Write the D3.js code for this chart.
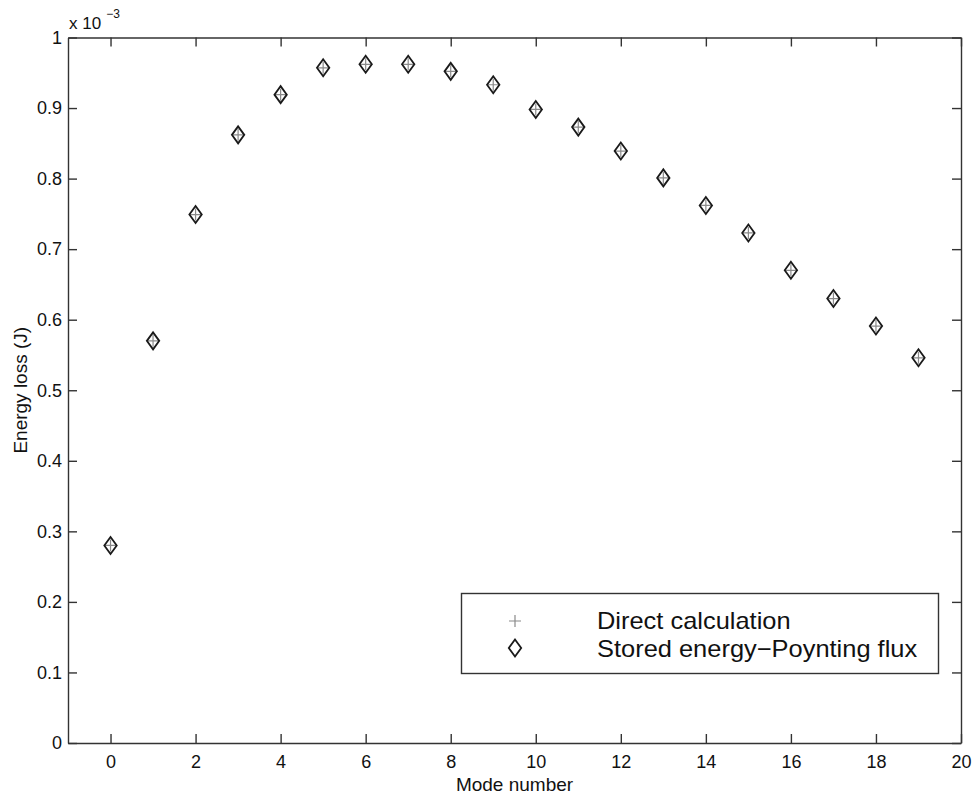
<!DOCTYPE html>
<html>
<head>
<meta charset="utf-8">
<script src="https://cdn.jsdelivr.net/npm/d3@7"></script>
<style>
  body { margin: 0; background: #fff; }
  text { font-family: Helvetica, "Liberation Sans", Arial, sans-serif; fill: #111; }
</style>
</head>
<body>
<svg id="chart" width="972" height="795"></svg>
<script>
(function(){

	//Data (energy loss in units of 1e-3 J)
	var modes = [0, 1, 2, 3, 4, 5, 6, 7, 8, 9, 10, 11, 12, 13, 14, 15, 16, 17, 18, 19];
	var directCalc = [0.280, 0.570, 0.749, 0.862, 0.919, 0.957, 0.962, 0.962, 0.952, 0.933,
		0.898, 0.873, 0.839, 0.801, 0.762, 0.723, 0.670, 0.630, 0.591, 0.546];
	var storedEnergy = [0.280, 0.570, 0.749, 0.862, 0.919, 0.957, 0.962, 0.962, 0.952, 0.933,
		0.898, 0.873, 0.839, 0.801, 0.762, 0.723, 0.670, 0.630, 0.591, 0.546];
	var xTicks = [0, 2, 4, 6, 8, 10, 12, 14, 16, 18, 20];
	var yTicks = [0, 0.1, 0.2, 0.3, 0.4, 0.5, 0.6, 0.7, 0.8, 0.9, 1];
	var legendNames = ["Direct calculation", "Stored energy\u2212Poynting flux"];

	//Layout
	var left = 68, right = 961, top = 37.5, bottom = 743;
	var axisColor = "#333";
	var tickLen = 9;

	var svg = d3.select("#chart");

	var x = d3.scaleLinear().domain([-1, 20]).range([left, right]);
	var y = d3.scaleLinear().domain([0, 1]).range([bottom, top]);

	//Axes with inward ticks on all four sides
	svg.append("g")
		.attr("transform", "translate(0," + bottom + ")")
		.call(d3.axisBottom(x).tickValues(xTicks).tickSize(-tickLen).tickSizeOuter(0).tickPadding(12.5));
	svg.append("g")
		.attr("transform", "translate(" + left + ",0)")
		.call(d3.axisLeft(y).tickValues(yTicks).tickSize(-tickLen).tickSizeOuter(0).tickPadding(6)
			.tickFormat(function(d){ return d3.format("~g")(d); }));
	svg.append("g")
		.attr("transform", "translate(0," + top + ")")
		.call(d3.axisTop(x).tickValues(xTicks).tickSize(-tickLen).tickSizeOuter(0).tickFormat(""));
	svg.append("g")
		.attr("transform", "translate(" + right + ",0)")
		.call(d3.axisRight(y).tickValues(yTicks).tickSize(-tickLen).tickSizeOuter(0).tickFormat(""));

	svg.selectAll(".domain, .tick line")
		.attr("stroke", axisColor)
		.attr("stroke-width", 1.4);

	svg.selectAll(".tick text")
		.attr("font-size", 18)
		.attr("fill", "#111")
		.attr("font-family", "Helvetica, 'Liberation Sans', Arial, sans-serif");

	//Exponent label
	var expo = svg.append("text")
		.attr("x", 69)
		.attr("y", 29)
		.attr("font-size", 17);
	expo.append("tspan").text("x 10");
	expo.append("tspan").attr("font-size", 12).attr("dx", 5).attr("dy", -11.5).text("\u22123");

	//Axis titles
	svg.append("text")
		.attr("x", (left + right) / 2)
		.attr("y", 791)
		.attr("text-anchor", "middle")
		.attr("font-size", 19)
		.text("Mode number");
	svg.append("text")
		.attr("transform", "translate(27," + (top + bottom) / 2 + ") rotate(-90)")
		.attr("text-anchor", "middle")
		.attr("font-size", 19)
		.text("Energy loss (J)");

	//Marker shapes
	function diamond(cx, cy){
		var w = 6.2, h = 8.5;
		return "M" + cx + "," + (cy - h) + "L" + (cx + w) + "," + cy + "L" + cx + "," + (cy + h) + "L" + (cx - w) + "," + cy + "Z";
	}
	function plus(cx, cy){
		var a = 6;
		return "M" + (cx - a) + "," + cy + "H" + (cx + a) + "M" + cx + "," + (cy - a) + "V" + (cy + a);
	}

	var plusData = modes.map(function(m, i){ return {m: m, v: directCalc[i]}; });
	var diaData = modes.map(function(m, i){ return {m: m, v: storedEnergy[i]}; });

	svg.append("g").selectAll("path")
		.data(plusData)
		.enter()
		.append("path")
		.attr("d", function(d){ return plus(x(d.m), y(d.v)); })
		.attr("fill", "none")
		.attr("stroke", "#8a8a8a")
		.attr("stroke-width", 1.2);

	svg.append("g").selectAll("path")
		.data(diaData)
		.enter()
		.append("path")
		.attr("d", function(d){ return diamond(x(d.m), y(d.v)); })
		.attr("fill", "none")
		.attr("stroke", "#1a1a1a")
		.attr("stroke-width", 1.8);

	//Legend
	var leg = svg.append("g");
	leg.append("rect")
		.attr("x", 461.5).attr("y", 593.5)
		.attr("width", 477).attr("height", 80)
		.attr("fill", "#fff")
		.attr("stroke", axisColor)
		.attr("stroke-width", 1.4);
	leg.append("path")
		.attr("d", plus(515, 621))
		.attr("fill", "none").attr("stroke", "#8a8a8a").attr("stroke-width", 1.2);
	leg.append("path")
		.attr("d", diamond(515, 648))
		.attr("fill", "none").attr("stroke", "#1a1a1a").attr("stroke-width", 1.8);
	leg.selectAll(".legText")
		.data(legendNames)
		.enter()
		.append("text")
		.attr("class", "legText")
		.attr("transform", function(d, i){ return "translate(597," + (629 + i * 27.5) + ") scale(1.06,1)"; })
		.attr("font-size", 24)
		.text(function(d){ return d; });

})();
</script>
</body>
</html>
